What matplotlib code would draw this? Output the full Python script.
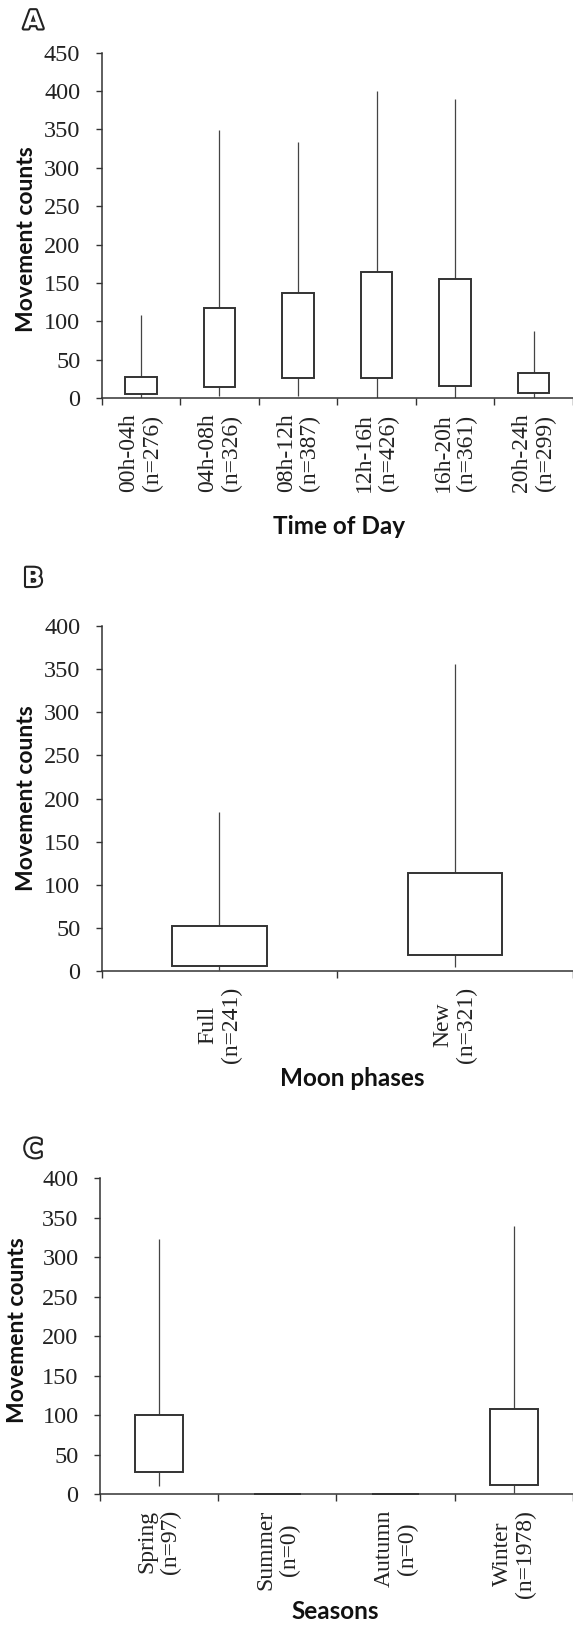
import matplotlib
matplotlib.use("Agg")
import matplotlib.pyplot as plt
import matplotlib.patheffects as pe
import numpy as np

# time of day
tod_labels = ["00h-04h\n(n=276)", "04h-08h\n(n=326)", "08h-12h\n(n=387)",
              "12h-16h\n(n=426)", "16h-20h\n(n=361)", "20h-24h\n(n=299)"]
tod_lo = [1, 3, 3, 1, 1, 1]
tod_q1 = [5, 15, 27, 26, 16, 6.5]
tod_q3 = [28, 118, 137, 164, 155, 33]
tod_hi = [108, 349, 334, 400, 390, 87]

# moon phases
moon_labels = ["Full\n(n=241)", "New\n(n=321)"]
moon_lo = [1.5, 4.5]
moon_q1 = [6, 18.5]
moon_q3 = [53, 114]
moon_hi = [184, 356]

# seasons
season_labels = ["Spring\n(n=97)", "Summer\n(n=0)", "Autumn\n(n=0)", "Winter\n(n=1978)"]
season_lo = [11, 0, 0, 2]
season_q1 = [28, 0, 0, 12]
season_q3 = [100, 0, 0, 108]
season_hi = [323, 0, 0, 339]

SERIF = "Liberation Serif"
SANS = "Lato"
DARK = "#333333"


def box_panel(ax, labels, lo, q1, q3, hi, ymax, xright, xlab,
              ylab_xy, xlab_xy):
    n = len(labels)
    x = np.arange(1, n + 1)
    q1 = np.array(q1, float)
    q3 = np.array(q3, float)
    ax.vlines(x, lo, q1, color="#444444", lw=0.9, zorder=1)
    ax.vlines(x, q3, hi, color="#444444", lw=0.9, zorder=1)
    ax.bar(x, q3 - q1, bottom=q1, width=0.4, facecolor="white",
           edgecolor="#333333", linewidth=1.4, zorder=3, clip_on=False)

    ax.set_xlim(0.5, xright)
    ax.set_ylim(0, ymax)
    ax.set_yticks(np.arange(0, ymax + 1, 50))
    ax.set_xticks(x)
    ax.set_xticklabels(labels, rotation=90, ha="center", va="top",
                       multialignment="center", fontfamily=SERIF, fontsize=17,
                       linespacing=1.15, color="#222222")
    ax.set_xticks(np.arange(0.5, n + 1, 1.0), minor=True)
    ax.tick_params(axis="x", which="major", length=0, pad=11)
    ax.tick_params(axis="x", which="minor", length=5, width=1.0, color=DARK,
                   direction="out")
    ax.tick_params(axis="y", length=4.3, width=1.0, color=DARK, pad=11,
                   direction="out")
    for t in ax.get_yticklabels():
        t.set_fontfamily(SERIF)
        t.set_fontsize(17.5)
        t.set_color("#222222")

    for s in ["top", "right"]:
        ax.spines[s].set_visible(False)
    for s in ["left", "bottom"]:
        ax.spines[s].set_color(DARK)
        ax.spines[s].set_linewidth(1.1)

    ax.set_ylabel("Movement counts", fontfamily=SANS, fontweight="bold",
                  fontsize=16.5, va="center", color="#111111")
    ax.yaxis.set_label_coords(*ylab_xy)
    ax.set_xlabel(xlab, fontfamily=SANS, fontweight="bold", fontsize=17.5,
                  va="center", color="#111111")
    ax.xaxis.set_label_coords(*xlab_xy)


fig = plt.figure(figsize=(5.73, 16.25), dpi=100)

ax_a = fig.add_axes([0.1773, 0.7549, 0.8227, 0.2127])
box_panel(ax_a, tod_labels, tod_lo, tod_q1, tod_q3, tod_hi, 450, 6.407,
          "Time of Day", (-0.16, 0.46), (0.504, -0.3695))

ax_b = fig.add_axes([0.1773, 0.4023, 0.8227, 0.2125])
box_panel(ax_b, moon_labels, moon_lo, moon_q1, moon_q3, moon_hi, 400, 2.469,
          "Moon phases", (-0.16, 0.5), (0.531, -0.3105))

ax_c = fig.add_axes([0.1742, 0.0804, 0.8258, 0.1945])
box_panel(ax_c, season_labels, season_lo, season_q1, season_q3, season_hi, 400, 4.476,
          "Seasons", (-0.174, 0.52), (0.497, -0.371))

# panel letters, hollow style
for letter, y in [("A", 0.9868), ("B", 0.6437), ("C", 0.2923)]:
    fig.text(0.058, y, letter, ha="center", va="center", fontsize=18,
             fontweight="bold", fontfamily="DejaVu Sans", color="white",
             path_effects=[pe.withStroke(linewidth=3, foreground="#222222")])

fig.savefig("out.png", dpi=100)
